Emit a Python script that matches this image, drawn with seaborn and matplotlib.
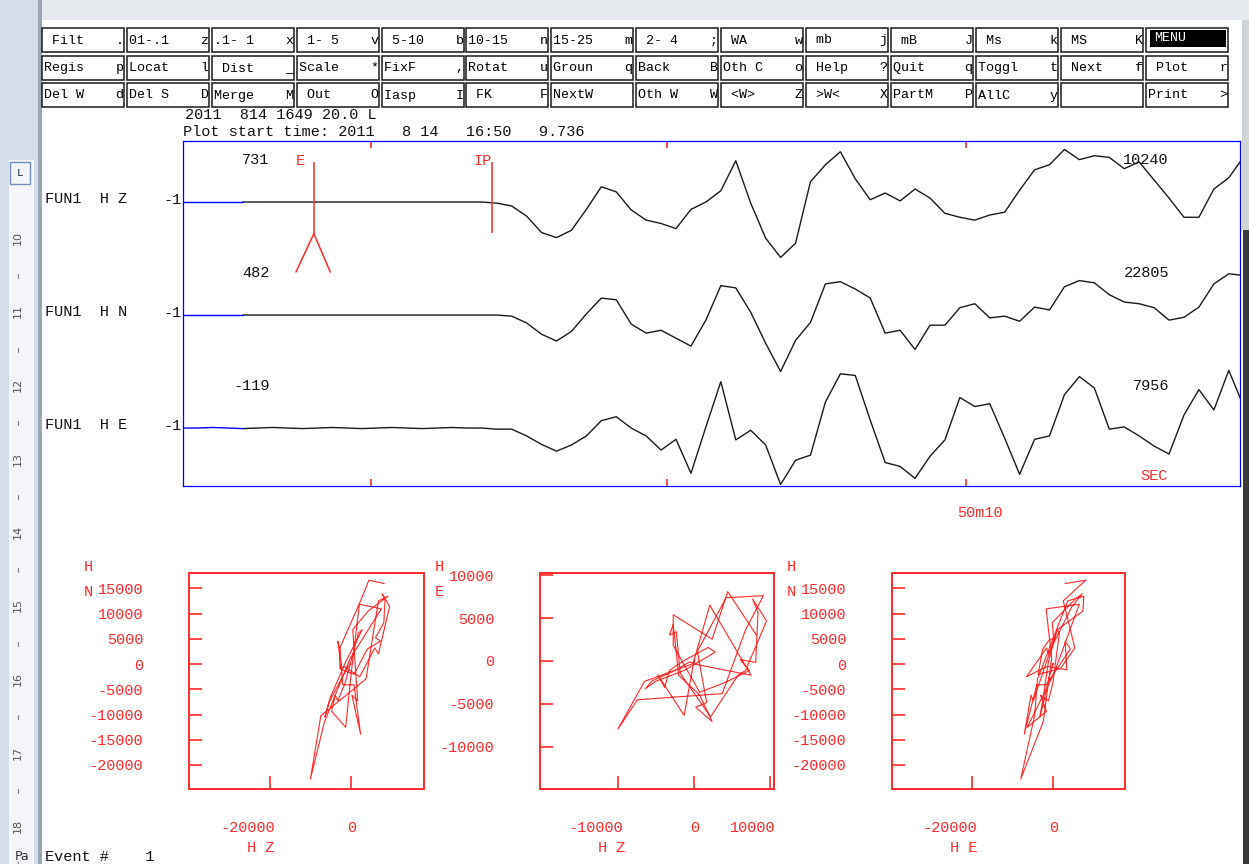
import numpy as np
import pandas as pd
import seaborn as sns
import matplotlib.pyplot as plt
import matplotlib.transforms as mtransforms
from matplotlib.patches import Rectangle

# ---- values ----
dt = 0.05  # sample interval, s (20 Hz)

# relative amplitude in % of the channel maximum, one value per sample
z_rel = [0, 0, 0, 0, 0, 0, 0, 0, 0, 0, 0, 0, 0, 0, 0, 0, 0, 0, 0, 0,
         0, -2, -7, -25, -54, -63, -50, -13, 27, 18,
         -14, -32, -38, -47, -13, 0, 20, 73, -2, -64,
         -98, -73, 36, 66, 89, 41, 4, 16, 2, 23,
         7, -20, -27, -32, -23, -18, 21, 57, 66, 93,
         75, 82, 79, 59, 71, 39, 7, -27, -27, 23,
         43, 80]
n_rel = [0, 0, 0, 0, 0, 0, 0, 0, 0, 0, 0, 0, 0, 0, 0, 0, 0, 0, 0, 0,
         0, 0, -2, -14, -34, -46, -29, 2, 30, 27,
         -16, -32, -27, -41, -55, -9, 52, 48, 5, -50,
         -100, -45, -13, 55, 59, 46, 30, -32, -27, -61,
         -18, -18, 13, 20, -5, -2, -11, 14, 9, 50,
         61, 57, 36, 23, 20, 13, -9, -4, 14, 55,
         73, 70]
e_rel = [0, 0, 1, 0, -1, 0, 1, 0, -1, 0, 1, 0, -1, 0, 1, 0, -1, 0, 1, 0,
         0, -2, -2, -14, -29, -41, -30, -14, 13, 20,
         0, -14, -39, -20, -80, 2, 82, -21, -4, -30,
         -100, -57, -48, 46, 96, 93, 14, -61, -68, -89,
         -50, -21, 54, 38, 43, -18, -82, -20, -14, 59,
         91, 71, -2, 2, -14, -32, -46, 23, 68, 32,
         102, 38]

channels = ["FUN1  H Z", "FUN1  H N", "FUN1  H E"]
first_vals = [731, 482, -119]
max_vals = [10240, 22805, 7956]

pick_names = ["E", "IP"]
pick_times = [0.438, 1.034]
tick_times = [0.63, 1.62, 2.62]

header1 = "2011  814 1649 20.0 L"
header2 = "Plot start time: 2011   8 14   16:50   9.736"

menu_rows = [
    [" Filt    .", "01-.1    z", ".1- 1    x", " 1- 5    v", " 5-10    b", "10-15    n", "15-25    m",
     " 2- 4    ;", " WA      w", " mb      j", " mB      J", " Ms      k", " MS      K", "MENU"],
    ["Regis    p", "Locat    l", " Dist    _", "Scale    *", "FixF     ,", "Rotat    u", "Groun    q",
     "Back     B", "Oth C    o", " Help    ?", "Quit     q", "Toggl    t", " Next    f", " Plot    r"],
    ["Del W    d", "Del S    D", "Merge    M", " Out     O", "Iasp     I", " FK      F", "NextW",
     "Oth W    W", " <W>     Z", " >W<     X", "PartM    P", "AllC     y", "", "Print    >"],
]

# particle motion: (x channel, y channel) and tick values
pm_pairs = [(0, 1), (0, 2), (2, 1)]
pm_names = [("H Z", "H", "N"), ("H Z", "H", "E"), ("H E", "H", "N")]
pm_xticks = [[-20000, 0], [-10000, 0, 10000], [-20000, 0]]
pm_yticks = [[15000, 10000, 5000, 0, -5000, -10000, -15000, -20000],
             [10000, 5000, 0, -5000, -10000],
             [15000, 10000, 5000, 0, -5000, -10000, -15000, -20000]]
ruler_nums = ["10", "11", "12", "13", "14", "15", "16", "17", "18"]

# ---- styling ----
sns.set_theme(style="white")
plt.rcParams['font.family'] = ['Liberation Mono', 'DejaVu Sans Mono']
plt.rcParams['axes.unicode_minus'] = False

W, H = 1249, 864
RED = "#ff2a2a"
PT = 0.72  # points per pixel at 100 dpi


def fig_rect(x0, y0, x1, y1):
    return [x0 / W, 1 - y1 / H, (x1 - x0) / W, (y1 - y0) / H]


fig = plt.figure(figsize=(W / 100, H / 100), dpi=100)
fig.patch.set_facecolor("white")

# background layer in screen pixels (menu, header, window chrome)
bg = fig.add_axes([0, 0, 1, 1])
bg.set_xlim(0, W)
bg.set_ylim(H, 0)
bg.axis("off")

bg.add_patch(Rectangle((0, 0), 40, H, color="#d5dde8", lw=0))
bg.add_patch(Rectangle((9, 160), 25, H - 160, color="#f3f5f8", lw=0))
bg.add_patch(Rectangle((10, 162), 20, 22, fill=False, ec="#6f8fb8", lw=1))
bg.text(20, 173, "L", ha="center", va="center", fontsize=8, color="#234")
bg.add_patch(Rectangle((38, 0), 4, H, color="#9aa6b4", lw=0))
bg.add_patch(Rectangle((42, 0), W - 42, 20, color="#e6eaef", lw=0))
bg.add_patch(Rectangle((1242, 20), 7, 210, color="#cfd3d8", lw=0))
bg.add_patch(Rectangle((1243, 230), 6, H - 230, color="#3a3a3a", lw=0))
for i, num in enumerate(ruler_nums):
    bg.text(18, 238 + i * 73.5, num, rotation=90, ha="center", va="center",
            fontsize=8, color="#555", family="DejaVu Sans")
    bg.plot([18, 18], [238 + i * 73.5 + 36, 238 + i * 73.5 + 40], color="#777", lw=0.8)
bg.text(15, 857, "Pa", fontsize=9, va="center", color="#333", family="DejaVu Sans")

# menu buttons
col_x0, col_pitch, box_w = 42, 84.9, 82
row_y0, box_h = [28, 55.5, 83], 24
for r, row in enumerate(menu_rows):
    for c, label in enumerate(row):
        x, y = col_x0 + c * col_pitch, row_y0[r]
        bg.add_patch(Rectangle((x, y), box_w, box_h, fill=False, ec="#1a1a1a", lw=1.1))
        if label == "MENU":
            bg.add_patch(Rectangle((x + 4, y + 1.5), 76, 17, color="black", lw=0))
            bg.text(x + 8, y + 10, label, color="white", fontsize=9.6, va="center")
        else:
            bg.text(x + 2, y + box_h / 2 + 0.5, label, color="black", fontsize=9.6, va="center")

bg.text(185, 115, header1, fontsize=11, va="center", color="#111")
bg.text(183, 132, header2, fontsize=11, va="center", color="#111")
bg.text(45, 857, "Event #    1", fontsize=11, va="center", color="#111")

# ---- waveform panel ----
tr = fig.add_axes(fig_rect(183, 141, 1240, 486))
tr.set_facecolor("none")
traces = [z_rel, n_rel, e_rel]
offsets = [2.5, 1.5, 0.5]
for k, rel in enumerate(traces):
    t = np.arange(len(rel)) * dt
    y = offsets[k] + np.array(rel) / 100 * 0.5
    df = pd.DataFrame({"t": t, "y": y})
    sns.lineplot(data=df.iloc[4:], x="t", y="y", color="#1a1a1a", lw=1.0,
                 estimator=None, sort=False, ax=tr)
    sns.lineplot(data=df.iloc[:5], x="t", y="y", color="#0000ff", lw=1.0,
                 estimator=None, sort=False, ax=tr)
    tr.annotate(channels[k], xy=(0, offsets[k]), xytext=(-138 * PT, 3 * PT),
                textcoords="offset points", ha="left", va="center", fontsize=11, color="#111")
    tr.annotate("-1", xy=(0, offsets[k]), xytext=(-1 * PT, 2 * PT),
                textcoords="offset points", ha="right", va="center", fontsize=11, color="#111")
    tr.text(0.29, offsets[k] + 0.37, str(first_vals[k]), ha="right", va="center",
            fontsize=11, color="#111")
    tr.text(3.30, offsets[k] + 0.37, str(max_vals[k]), ha="right", va="center",
            fontsize=11, color="#111")

# phase picks
tr.vlines(pick_times[0], 2.22, 2.85, color=RED, lw=1.1)
tr.plot([pick_times[0] - 0.06, pick_times[0], pick_times[0] + 0.055],
        [1.88, 2.22, 1.88], color=RED, lw=1.1)
tr.vlines(pick_times[1], 2.23, 2.85, color=RED, lw=1.1)
tr.text(pick_times[0] - 0.045, 2.86, pick_names[0], color=RED, ha="center", va="center", fontsize=11)
tr.text(pick_times[1] - 0.03, 2.86, pick_names[1], color=RED, ha="center", va="center", fontsize=11)
tr.text(3.205, 0.075, "SEC", color=RED, ha="left", va="center", fontsize=11)
tr.annotate("50m10", xy=(tick_times[2], -0.013), xytext=(14 * PT, -27 * PT),
            textcoords="offset points", ha="center", va="center", fontsize=11, color=RED)

tr.set_xlim(0, 70.75 * dt)
tr.set_ylim(-0.013, 3.04)
tr.set_xticks(tick_times)
tr.set_yticks([])
tr.tick_params(axis="x", direction="in", top=True, bottom=True, length=5, width=1.2,
               color=RED, labelbottom=False)
tr.set_xlabel("")
tr.set_ylabel("")
for s in tr.spines.values():
    s.set_color("#0000ff")
    s.set_linewidth(0.9)

# ---- particle motion plots ----
pm_boxes = [(189, 573, 424, 789), (540, 573, 774, 789), (892, 573, 1125, 789)]
pm_xlim = [(-40000, 18000), (-20300, 10500), (-39750, 17800)]
pm_ylim = [(-24770, 18060), (-14970, 10290), (-24770, 18060)]
counts = [np.array(rel) / 100 * m for rel, m in zip(traces, max_vals)]
offset = mtransforms.ScaledTranslation(5 / 100, 0, fig.dpi_scale_trans)

for i, box in enumerate(pm_boxes):
    ax = fig.add_axes(fig_rect(*box))
    ax.set_facecolor("none")
    xi, yi = pm_pairs[i]
    sns.lineplot(x=counts[xi], y=counts[yi], color=RED, lw=0.8,
                 estimator=None, sort=False, ax=ax)
    ax.set_xlim(*pm_xlim[i])
    ax.set_ylim(*pm_ylim[i])
    ax.set_xticks(pm_xticks[i])
    ax.set_xticklabels([str(v) for v in pm_xticks[i]], ha="right")
    ax.set_yticks(pm_yticks[i])
    ax.set_yticklabels([str(v) for v in pm_yticks[i]])
    ax.tick_params(direction="in", length=9.4, width=1.2, color=RED, labelcolor=RED,
                   labelsize=11, top=False, right=False, bottom=True, left=True)
    ax.tick_params(axis="x", pad=23)
    ax.tick_params(axis="y", pad=33)
    for lab in ax.xaxis.get_majorticklabels():
        lab.set_transform(lab.get_transform() + offset)
    for s in ax.spines.values():
        s.set_color(RED)
        s.set_linewidth(1.4)
    ax.set_xlabel("")
    ax.set_ylabel("")
    xname, h, yname = pm_names[i]
    ax.annotate(h, xy=(0, 1), xycoords="axes fraction", xytext=(-101 * PT, 6 * PT),
                textcoords="offset points", ha="center", va="center", fontsize=11, color=RED)
    ax.annotate(yname, xy=(0, 1), xycoords="axes fraction", xytext=(-101 * PT, -19 * PT),
                textcoords="offset points", ha="center", va="center", fontsize=11, color=RED)
    ax.annotate(xname, xy=(0, 0), xycoords="axes fraction", xytext=(72 * PT, -59 * PT),
                textcoords="offset points", ha="center", va="center", fontsize=11, color=RED)

fig.savefig("out.png", dpi=100)
